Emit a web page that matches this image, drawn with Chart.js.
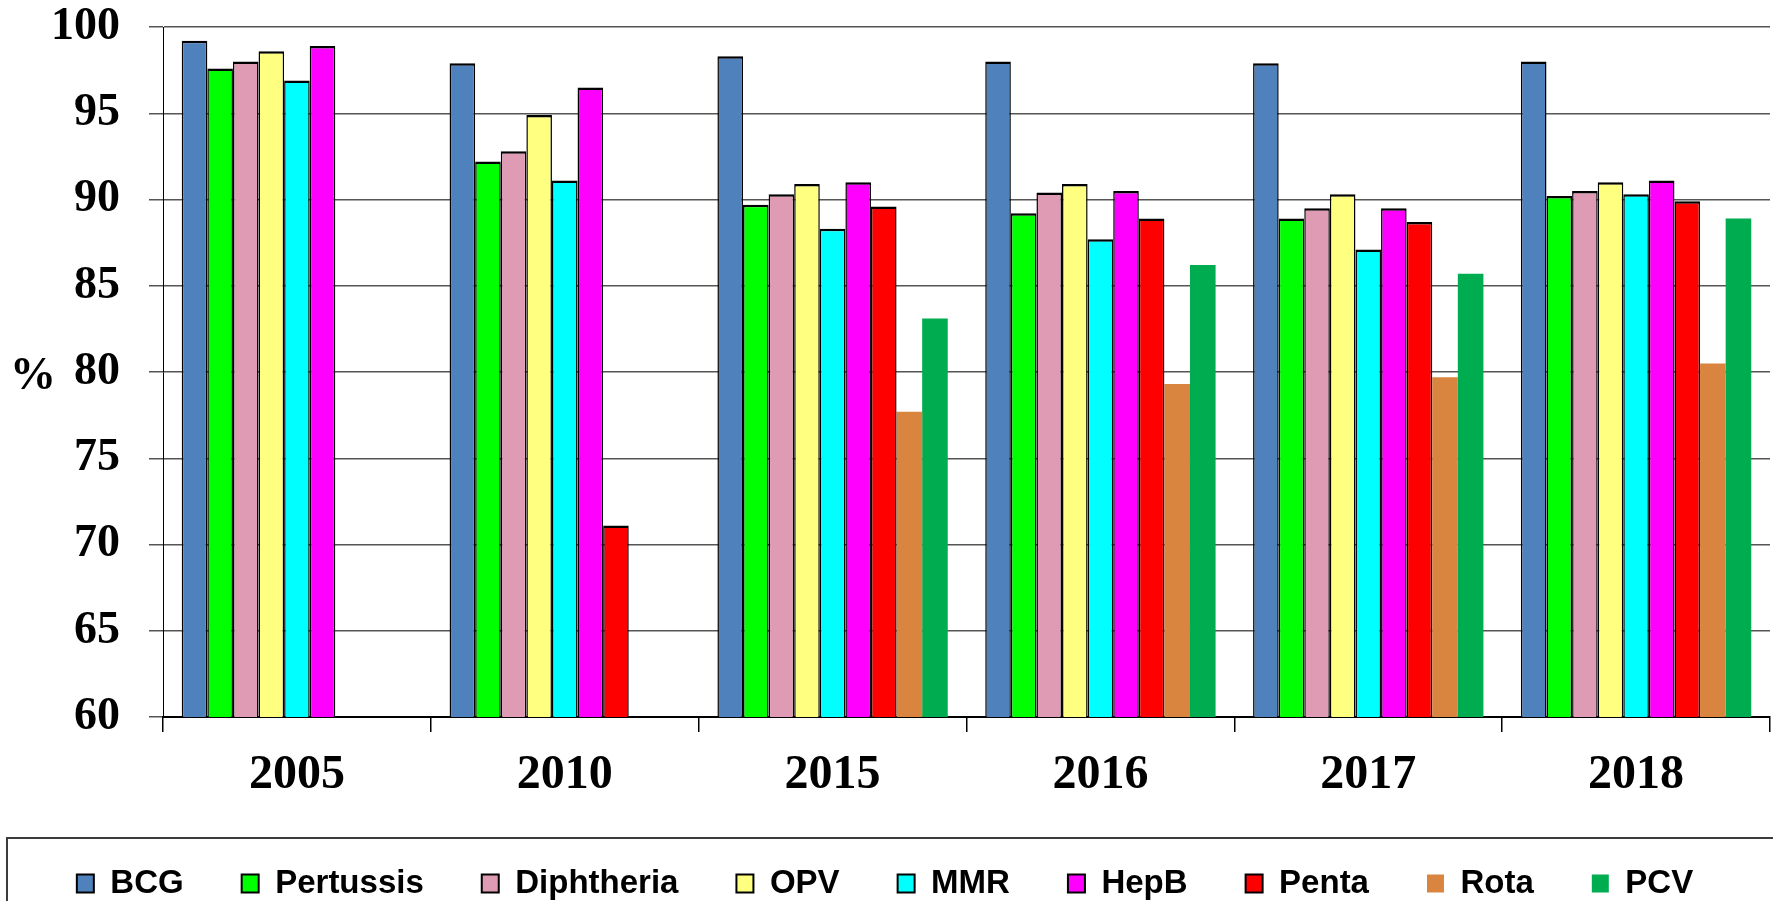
<!DOCTYPE html>
<html>
<head>
<meta charset="utf-8">
<title>Vaccination coverage</title>
<script src="https://cdn.jsdelivr.net/npm/chart.js@4.4.0/dist/chart.umd.min.js"></script>
<style>
    html, body { margin: 0; padding: 0; background: #fff; overflow: hidden; }
    #wrap { width: 1773px; height: 910px; }
</style>
</head>
<body>
<div id="wrap"><canvas id="coverageChart" width="1773" height="910"></canvas></div>
<script>
// categories and tick values
const years = ['2005', '2010', '2015', '2016', '2017', '2018'];
const yTicks = [60, 65, 70, 75, 80, 85, 90, 95, 100];

// coverage in % per vaccine (null = not given that year)
const bcg        = [99.2, 97.9, 98.3, 98.0, 97.9, 98.0];
const pertussis  = [97.6, 92.2, 89.7, 89.2, 88.9, 90.2];
const diphtheria = [98.0, 92.8, 90.3, 90.4, 89.5, 90.5];
const opv        = [98.6, 94.9, 90.9, 90.9, 90.3, 91.0];
const mmr        = [96.9, 91.1, 88.3, 87.7, 87.1, 90.3];
const hepB       = [98.9, 96.5, 91.0, 90.5, 89.5, 91.1];
const penta      = [null, 71.1, 89.6, 88.9, 88.7, 89.9];
const rota       = [null, null, 77.7, 79.3, 79.7, 80.5];
const pcv        = [null, null, 83.1, 86.2, 85.7, 88.9];

const serif = "'Liberation Serif', 'Times New Roman', serif";
const sans = "'Liberation Sans', Arial, sans-serif";

const outlined = { top: 2.5, left: 1.5, right: 1.5, bottom: 0 };

function series(label, data, color, border) {
    return {
        label: label,
        data: data,
        backgroundColor: color,
        borderColor: '#000',
        borderWidth: border ? outlined : 0,
        categoryPercentage: 0.86,
        barPercentage: 1.0
    };
}

// legend frame and the "%" label
const extras = {
    id: 'extras',
    afterDraw(chart) {
        const ctx = chart.ctx;
        ctx.save();
        ctx.strokeStyle = '#3c3c3c';
        ctx.lineWidth = 2;
        ctx.strokeRect(7, 838, 1800, 120);
        ctx.fillStyle = '#000';
        ctx.font = 'bold 46px ' + serif;
        ctx.textAlign = 'center';
        ctx.textBaseline = 'middle';
        ctx.fillText('%', 33, 377);
        ctx.restore();
    }
};

const ctx = document.getElementById('coverageChart').getContext('2d');
const coverageChart = new Chart(ctx, {
    type: 'bar',
    data: {
        labels: years,
        datasets: [
            series('BCG', bcg, '#4F81BD', true),
            series('Pertussis', pertussis, '#00FF00', true),
            series('Diphtheria', diphtheria, '#DE9BB3', true),
            series('OPV', opv, '#FFFF80', true),
            series('MMR', mmr, '#00FFFF', true),
            series('HepB', hepB, '#FF00FF', true),
            series('Penta', penta, '#FF0000', true),
            series('Rota', rota, '#D9843F', false),
            series('PCV', pcv, '#00AC50', false)
        ]
    },
    options: {
        responsive: false,
        animation: false,
        devicePixelRatio: 1,
        layout: {
            padding: { top: 0, left: 0, right: 3, bottom: 0 }
        },
        plugins: {
            tooltip: { enabled: false },
            legend: {
                position: 'bottom',
                labels: {
                    color: '#000',
                    font: { family: sans, size: 33, weight: 'bold' },
                    boxWidth: 17,
                    boxHeight: 18,
                    padding: 58,
                    generateLabels(chart) {
                        const items = Chart.defaults.plugins.legend.labels.generateLabels(chart);
                        items.forEach(item => {
                            item.lineWidth = item.lineWidth > 0 ? 2 : 0;
                        });
                        return items;
                    }
                }
            }
        },
        scales: {
            x: {
                afterFit(axis) { axis.height = 92; },
                grid: {
                    drawOnChartArea: false,
                    tickLength: 15,
                    color: '#000',
                    lineWidth: 1.5
                },
                border: { color: '#000', width: 2 },
                ticks: {
                    color: '#000',
                    padding: 15,
                    font: { family: serif, size: 48, weight: 'bold' }
                }
            },
            y: {
                min: 60,
                max: 100,
                afterFit(axis) {
                    axis.width = 163;
                    // tick padding would otherwise push the plot down
                    axis.paddingTop = 27;
                    axis.paddingBottom = 0;
                },
                afterBuildTicks(axis) {
                    axis.ticks = yTicks.map(v => ({ value: v }));
                },
                grid: {
                    color: '#555',
                    lineWidth: 1.5,
                    tickLength: 14
                },
                border: { color: '#000', width: 1 },
                ticks: {
                    color: '#000',
                    padding: 29,
                    font: { family: serif, size: 46, weight: 'bold' }
                }
            }
        }
    },
    plugins: [extras]
});
</script>
</body>
</html>
